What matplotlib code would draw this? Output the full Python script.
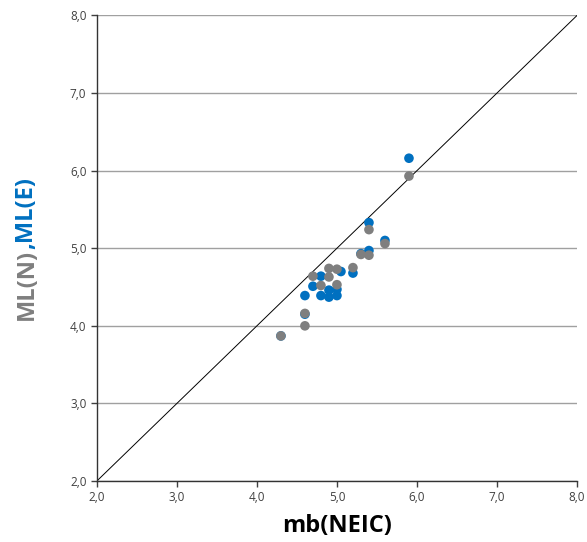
import matplotlib
matplotlib.use("Agg")
import matplotlib.pyplot as plt

# mb(NEIC) vs ML(N) (gray) and ML(E) (blue)
mb_n = [5.9, 5.4, 5.6, 5.4, 5.3, 4.9, 5.0, 5.2, 4.7, 4.9, 4.8, 5.0, 4.6, 4.6, 4.3]
ml_n = [5.93, 5.24, 5.06, 4.91, 4.92, 4.74, 4.73, 4.75, 4.64, 4.63, 4.52, 4.53, 4.16, 4.00, 3.87]

mb_e = [5.9, 5.4, 5.6, 5.4, 5.3, 5.05, 5.2, 4.8, 4.7, 4.9, 5.0, 4.6, 4.8, 4.9, 5.0, 4.6, 4.3]
ml_e = [6.16, 5.33, 5.10, 4.97, 4.93, 4.70, 4.68, 4.64, 4.51, 4.46, 4.47, 4.39, 4.39, 4.37, 4.39, 4.15, 3.87]

ticks = [2.0, 3.0, 4.0, 5.0, 6.0, 7.0, 8.0]
tick_labels = ["2,0", "3,0", "4,0", "5,0", "6,0", "7,0", "8,0"]

blue = "#0070C0"
gray = "#7F7F7F"

plt.rcParams["font.family"] = ["Open Sans", "DejaVu Sans"]

fig = plt.figure(figsize=(5.87, 5.42), dpi=100)
ax = fig.add_axes([0.165, 0.1125, 0.818, 0.859])

ax.plot([2, 8], [2, 8], color="black", lw=0.7, zorder=2)
ax.scatter(mb_e, ml_e, s=48, color=blue, edgecolors="none", zorder=3)
ax.scatter(mb_n, ml_n, s=48, color=gray, edgecolors="none", zorder=4)

ax.set_xlim(2, 8)
ax.set_ylim(2, 8)
ax.set_xticks(ticks)
ax.set_xticklabels(tick_labels)
ax.set_yticks(ticks)
ax.set_yticklabels(tick_labels)
ax.tick_params(labelsize=8.5, colors="#404040", length=4, width=1, direction="out")
ax.grid(axis="y", color="#A0A0A0", lw=1, zorder=1)
ax.set_axisbelow(True)
for side in ["top", "right"]:
    ax.spines[side].set_visible(False)
for side in ["left", "bottom"]:
    ax.spines[side].set_color("#333333")
    ax.spines[side].set_linewidth(1)

ax.set_xlabel("mb(NEIC)", fontsize=17, fontweight="bold", color="black", labelpad=7)

# two-colour y label
t1 = fig.text(0.045, 1 - 320 / 542, "ML(N)", rotation=90, color=gray,
              fontsize=17, fontweight="bold", ha="center", va="bottom")
fig.canvas.draw()
bb = t1.get_window_extent()
top = bb.y1 / fig.bbox.height
fig.text(0.045, top, ",ML(E)", rotation=90, color=blue,
         fontsize=17, fontweight="bold", ha="center", va="bottom")

fig.savefig("out.png", dpi=100)
